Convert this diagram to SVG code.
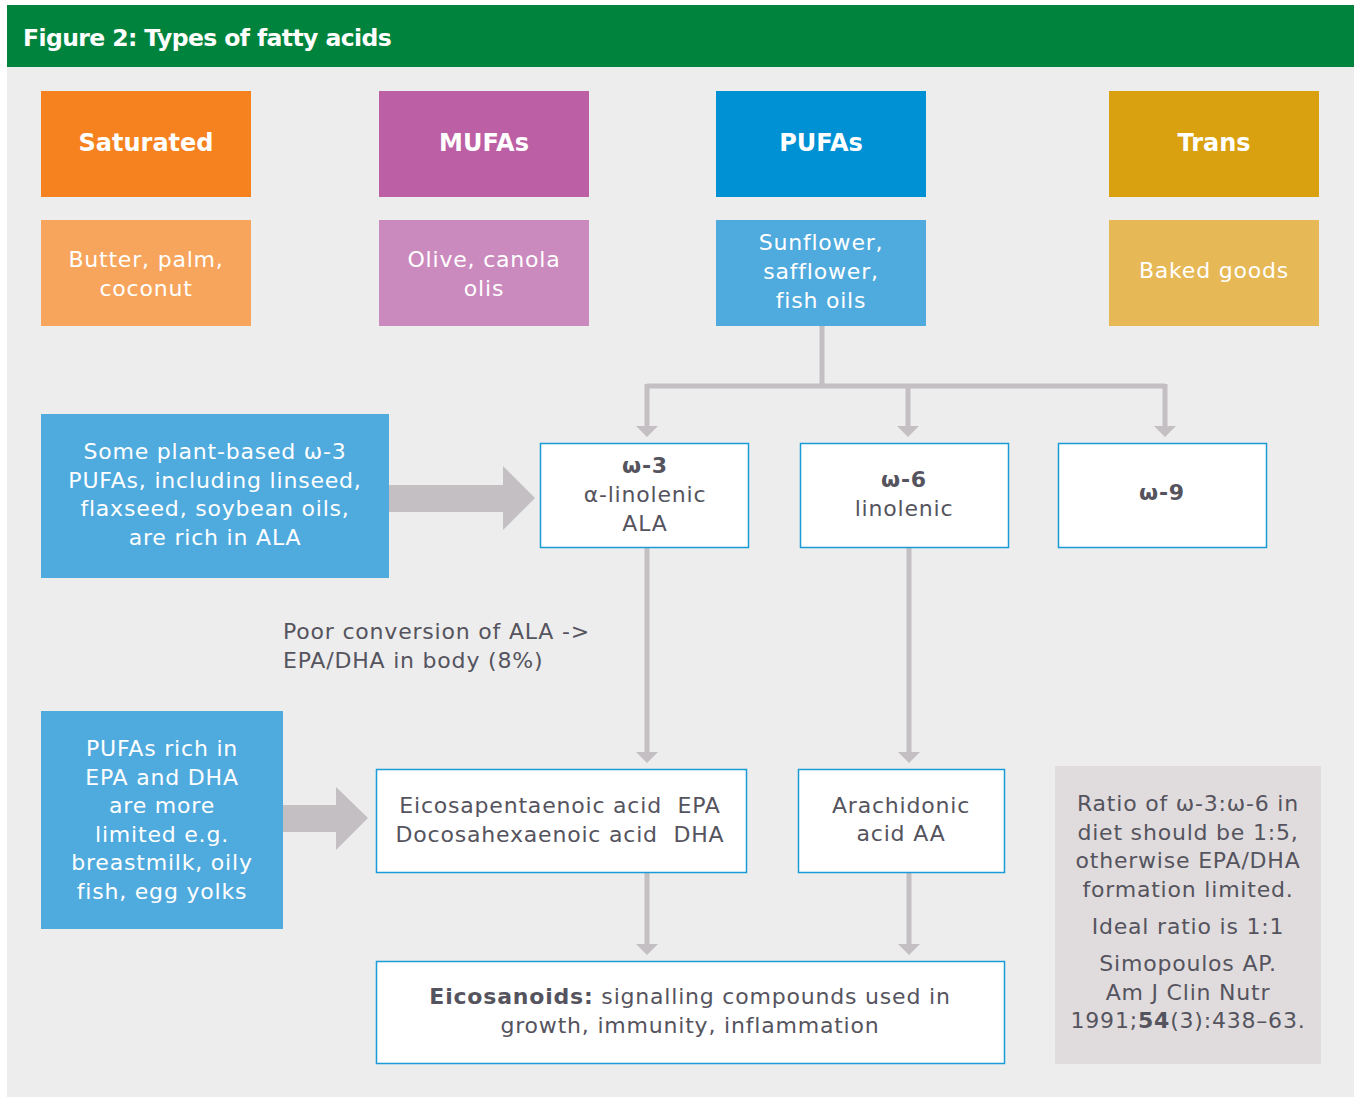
<svg xmlns="http://www.w3.org/2000/svg" width="1356" height="1097" viewBox="0 0 1356 1097">
<defs>
<style>
text{font-family:"DejaVu Sans","Liberation Sans",sans-serif;}
.hd{fill:#fff;font-size:24px;font-weight:bold;text-anchor:middle;}
.sub{fill:#fff;font-size:22px;letter-spacing:0.8px;text-anchor:middle;}
.dk{fill:#55545e;font-size:22px;letter-spacing:0.8px;text-anchor:middle;}
.wb{fill:#fff;stroke:#1a9ad6;stroke-width:1.5;}
.conn{stroke:#c4bfc2;stroke-width:5;fill:none;}
.ah{fill:#c4bfc2;}
</style>
</defs>
<rect x="0" y="0" width="1356" height="1097" fill="#fff"/>
<rect x="7" y="67" width="1347" height="1030" fill="#ededed"/>
<g id="title">
<rect x="7" y="5" width="1347" height="62" fill="#00843d"/>
<text x="23" y="46" style="fill:#fff;font-size:23.5px;font-weight:bold;letter-spacing:-0.6px">Figure 2: Types of fatty acids</text>
</g>
<g id="saturated"><rect x="41" y="91" width="210" height="106" fill="#f5821f"/><text class="hd" x="146" y="151">Saturated</text></g>
<g id="mufas"><rect x="379" y="91" width="210" height="106" fill="#bd5fa5"/><text class="hd" x="484" y="151">MUFAs</text></g>
<g id="pufas"><rect x="716" y="91" width="210" height="106" fill="#0091d5"/><text class="hd" x="821" y="151">PUFAs</text></g>
<g id="trans"><rect x="1109" y="91" width="210" height="106" fill="#d9a00f"/><text class="hd" x="1214" y="151">Trans</text></g>
<g id="butter"><rect x="41" y="220" width="210" height="106" fill="#f7a55d"/><text class="sub" x="146" y="267">Butter, palm,</text><text class="sub" x="146" y="296">coconut</text></g>
<g id="olive"><rect x="379" y="220" width="210" height="106" fill="#cb8abe"/><text class="sub" x="484" y="267">Olive, canola</text><text class="sub" x="484" y="296">olis</text></g>
<g id="sunflower"><rect x="716" y="220" width="210" height="106" fill="#4faade"/><text class="sub" x="821" y="250">Sunflower,</text><text class="sub" x="821" y="279">safflower,</text><text class="sub" x="821" y="308">fish oils</text></g>
<g id="baked"><rect x="1109" y="220" width="210" height="106" fill="#e6b856"/><text class="sub" x="1214" y="278">Baked goods</text></g>
<g id="connectors">
<path class="conn" d="M822 326V386M647 386H1165M647 384V426M908 386V426M1165 384V426"/>
<polygon class="ah" points="636,426 658,426 647,437"/>
<polygon class="ah" points="897,426 919,426 908,437"/>
<polygon class="ah" points="1154,426 1176,426 1165,437"/>
<path class="conn" d="M647 547V752M909 547V752M647 873V944M909 873V944"/>
<polygon class="ah" points="636,752 658,752 647,763"/>
<polygon class="ah" points="898,752 920,752 909,763"/>
<polygon class="ah" points="636,944 658,944 647,955"/>
<polygon class="ah" points="898,944 920,944 909,955"/>
<polygon class="ah" points="389,485 503,485 503,466 535,498 503,530 503,512 389,512"/>
<polygon class="ah" points="283,805 336,805 336,787 368,818 336,850 336,832 283,832"/>
</g>
<g id="plant"><rect x="41" y="414" width="348" height="164" fill="#4faade"/>
<text class="sub" x="215" y="459">Some plant-based ω-3</text><text class="sub" x="215" y="488">PUFAs, including linseed,</text><text class="sub" x="215" y="516">flaxseed, soybean oils,</text><text class="sub" x="215" y="545">are rich in ALA</text></g>
<g id="w3"><rect class="wb" x="540.5" y="443.5" width="208" height="104"/><text class="dk" x="645" y="473" font-weight="bold">ω-3</text><text class="dk" x="645" y="502">α-linolenic</text><text class="dk" x="645" y="531">ALA</text></g>
<g id="w6"><rect class="wb" x="800.5" y="443.5" width="208" height="104"/><text class="dk" x="904" y="487" font-weight="bold">ω-6</text><text class="dk" x="904" y="516">linolenic</text></g>
<g id="w9"><rect class="wb" x="1058.5" y="443.5" width="208" height="104"/><text class="dk" x="1162" y="500" font-weight="bold">ω-9</text></g>
<g id="poor"><text class="dk" x="283" y="639" style="text-anchor:start">Poor conversion of ALA -&gt;</text><text class="dk" x="283" y="668" style="text-anchor:start">EPA/DHA in body (8%)</text></g>
<g id="epadha-src"><rect x="41" y="711" width="242" height="218" fill="#4faade"/>
<text class="sub" x="162" y="756">PUFAs rich in</text><text class="sub" x="162" y="785">EPA and DHA</text><text class="sub" x="162" y="813">are more</text><text class="sub" x="162" y="842">limited e.g.</text><text class="sub" x="162" y="870">breastmilk, oily</text><text class="sub" x="162" y="899">fish, egg yolks</text></g>
<g id="epa"><rect class="wb" x="376.5" y="769.5" width="370" height="103"/><text class="dk" x="560" y="813" xml:space="preserve">Eicosapentaenoic acid  EPA</text><text class="dk" x="560" y="842" xml:space="preserve">Docosahexaenoic acid  DHA</text></g>
<g id="aa"><rect class="wb" x="798.5" y="769.5" width="206" height="103"/><text class="dk" x="901" y="813">Arachidonic</text><text class="dk" x="901" y="841">acid AA</text></g>
<g id="eico"><rect class="wb" x="376.5" y="961.5" width="628" height="102"/><text class="dk" x="690" y="1004"><tspan font-weight="bold">Eicosanoids:</tspan> signalling compounds used in</text><text class="dk" x="690" y="1033">growth, immunity, inflammation</text></g>
<g id="ratio"><rect x="1055" y="766" width="266" height="298" fill="#e0dcdd"/>
<text class="dk" x="1188" y="811">Ratio of ω-3:ω-6 in</text><text class="dk" x="1188" y="840">diet should be 1:5,</text><text class="dk" x="1188" y="868">otherwise EPA/DHA</text><text class="dk" x="1188" y="897">formation limited.</text><text class="dk" x="1188" y="934">Ideal ratio is 1:1</text><text class="dk" x="1188" y="971">Simopoulos AP.</text><text class="dk" x="1188" y="1000">Am J Clin Nutr</text><text class="dk" x="1188" y="1028">1991;<tspan font-weight="bold">54</tspan>(3):438–63.</text></g>
</svg>
